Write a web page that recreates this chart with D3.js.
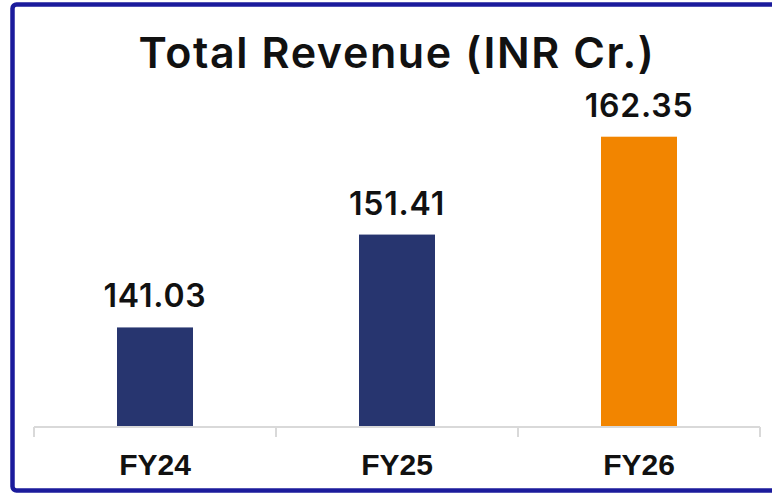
<!DOCTYPE html>
<html>
<head>
<meta charset="utf-8">
<script src="https://cdn.jsdelivr.net/npm/d3@7"></script>
<style>
  body { margin: 0; background: #fff; }
  svg { display: block; }
</style>
</head>
<body>
<script>
 ///////////////////////////////////////////////////////
 // data

 var categories = ["FY24", "FY25", "FY26"];
 var revenue = [141.03, 151.41, 162.35];
 var barColors = ["#27356f", "#27356f", "#f28500"];
 var title = "Total Revenue (INR Cr.)";

 ///////////////////////////////////////////////////////
 // margins

 var w = 772;
 var h = 493;
 var svg = d3.select("body").append("svg")
   .attr("width", w)
   .attr("height", h),
   margin = { top: 113, bottom: 66, left: 34, right: 12 },
   width = w - margin.left - margin.right,
   height = h - margin.top - margin.bottom;

 // frame round the picture (its right side runs off the edge)
 svg.append("rect")
   .attr("x", 12.5)
   .attr("y", 4.5)
   .attr("width", 800)
   .attr("height", 486)
   .attr("rx", 4)
   .style("fill", "none")
   .style("stroke", "#1b1b9c")
   .style("stroke-width", 4.5);

 ///////////////////////////////////////////////////////
 // scales

 var x = d3.scaleBand()
   .domain(categories)
   .range([0, width])
   .paddingInner(0)
   .paddingOuter(0);
 var y = d3.scaleLinear()
   .domain([129.9, 165]) // axis doesn't start at zero in the source
   .range([height, 0]);

 var chart = svg.append("g")
   .attr("transform", "translate(" + margin.left + "," + margin.top + ")");

 ///////////////////////////////////////////////////////
 // title

 svg.append("text")
   .attr("x", margin.left + width / 2)
   .attr("y", 68)
   .attr("text-anchor", "middle")
   .style("font-family", "Inter, 'Noto Sans', sans-serif")
   .style("font-weight", 600)
   .style("font-size", "43px")
   .style("letter-spacing", "1.6px")
   .style("fill", "#111")
   .text(title);

 ///////////////////////////////////////////////////////
 // bars

 var barW = 76;
 var rows = categories.map(function(c, i) {
   return { cat: c, value: revenue[i], color: barColors[i] };
 });

 chart.selectAll(".bar")
   .data(rows)
   .enter().append("rect")
   .classed("bar", true)
   .attr("x", function(d) { return x(d.cat) + x.bandwidth() / 2 - barW / 2; })
   .attr("y", function(d) { return y(d.value); })
   .attr("width", barW)
   .attr("height", function(d) { return height - y(d.value); })
   .style("fill", function(d) { return d.color; });

 chart.selectAll(".value")
   .data(rows)
   .enter().append("text")
   .classed("value", true)
   .attr("x", function(d) { return x(d.cat) + x.bandwidth() / 2; })
   .attr("y", function(d) { return y(d.value) - 20; })
   .attr("text-anchor", "middle")
   .style("font-family", "Inter, 'Noto Sans', sans-serif")
   .style("font-weight", 600)
   .style("font-size", "32px")
   .style("letter-spacing", "0.8px")
   .style("fill", "#111")
   .text(function(d) { return d.value.toFixed(2); });

 ///////////////////////////////////////////////////////
 // axis

 var xAxis = d3.axisBottom(x).tickSize(0).tickPadding(27);
 var gx = chart.append("g")
   .attr("transform", "translate(0," + height + ")")
   .call(xAxis);
 gx.select(".domain").remove();
 gx.selectAll("text")
   .style("font-family", "'Liberation Sans', Arial, sans-serif")
   .style("font-weight", "bold")
   .style("font-size", "30px")
   .style("fill", "#111");

 // baseline with tick marks between the categories
 gx.append("line")
   .attr("x1", 0).attr("x2", width)
   .attr("y1", 0).attr("y2", 0)
   .style("stroke", "#d9d9d9")
   .style("stroke-width", 2);
 var edges = categories.map(function(c) { return x(c); }).concat([width]);
 gx.selectAll(".sep")
   .data(edges)
   .enter().append("line")
   .classed("sep", true)
   .attr("x1", function(d) { return d; })
   .attr("x2", function(d) { return d; })
   .attr("y1", 0).attr("y2", 10)
   .style("stroke", "#d9d9d9")
   .style("stroke-width", 2);
</script>
</body>
</html>
